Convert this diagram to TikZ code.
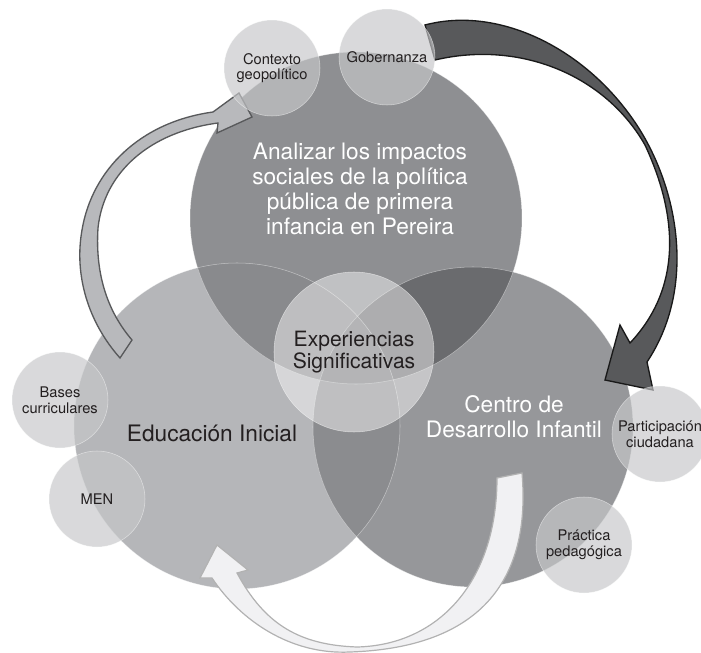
\documentclass[tikz,border=0pt]{standalone}
\usepackage{fontspec}
\setmainfont{TeX Gyre Heros}

\definecolor{grayT}{HTML}{8E8F92}
\definecolor{grayL}{HTML}{B5B6B9}
\definecolor{grayR}{HTML}{96979A}
\definecolor{grayTL}{HTML}{898A8D}
\definecolor{grayTR}{HTML}{6A6B6E}
\definecolor{grayLR}{HTML}{8B8C8F}
\definecolor{grayTLR}{HTML}{77787B}
\definecolor{graysmall}{HTML}{C6C7C9}
\definecolor{textdark}{HTML}{231F20}
\definecolor{arrowlight}{HTML}{B8B9BC}
\definecolor{arrowdark}{HTML}{58595B}
\definecolor{arrowwhite}{HTML}{F1F1F3}

\begin{document}
\begin{tikzpicture}[
x=0.75pt, y=-0.75pt,
bigcircle/.style={draw=white, draw opacity=0.45, line width=0.4pt},
smallnode/.style={circle, fill=graysmall, fill opacity=0.67, text opacity=1, draw=white, draw opacity=0.5, line width=0.4pt, minimum size=72pt, inner sep=0pt, align=center, text=textdark, font=\fontsize{11}{11.8}\selectfont},
centernode/.style={circle, fill=white, fill opacity=0.45, text opacity=1, draw=white, draw opacity=0.5, line width=0.4pt, minimum size=120pt, inner sep=0pt, align=center, text=textdark, font=\fontsize{15.8}{16.6}\selectfont},
bigtext/.style={align=center, inner sep=0pt, font=\fontsize{17}{18.6}\selectfont},
arrowband/.style={line width=1pt, line join=miter}
]

\useasboundingbox (0,0) rectangle (701,653);

\coordinate (c_top) at (356,218);
\coordinate (c_left) at (237,426);
\coordinate (c_right) at (473,427);

% big circles
\fill[grayL] (c_left) circle (163);
\fill[grayR] (c_right) circle (160);
\fill[grayT] (c_top) circle (166);

% overlaps
\begin{scope}
\clip (c_left) circle (163);
\fill[grayTL] (c_top) circle (166);
\fill[grayLR] (c_right) circle (160);
\end{scope}
\begin{scope}
\clip (c_right) circle (160);
\fill[grayTR] (c_top) circle (166);
\clip (c_left) circle (163);
\fill[grayTLR] (c_top) circle (166);
\end{scope}

\draw[bigcircle] (c_left) circle (163);
\draw[bigcircle] (c_right) circle (160);
\draw[bigcircle] (c_top) circle (166);

\node[centernode] (exp) at (354,352) {Experiencias\\Significativas};

\node[bigtext, text=white] (txt_top) at (360,189) {Analizar los impactos\\sociales de la política\\pública de primera\\infancia en Pereira};
\node[bigtext, text=textdark] (txt_left) at (212,433) {Educación Inicial};
\node[bigtext, text=white] (txt_right) at (514,417) {Centro de\\Desarrollo Infantil};

% arrows
\filldraw[arrowband, fill=arrowlight, draw=arrowdark]
  (120,358) .. controls (88,322) and (74,275) .. (82,230)
  .. controls (92,170) and (140,122) .. (213,112)
  -- (239,93) -- (252,117) -- (217,133) -- (218,123)
  .. controls (150,132) and (104,172) .. (98,228)
  .. controls (95,275) and (108,312) .. (132,340) -- cycle;

\filldraw[arrowband, fill=arrowdark, draw=black!90]
  (425,25) .. controls (500,5) and (590,50) .. (640,130)
  .. controls (680,195) and (695,290) .. (647,362)
  -- (653,390) -- (605,380) -- (620,325) -- (630,343)
  .. controls (680,290) and (680,220) .. (645,145)
  .. controls (605,75) and (520,40) .. (435,60) -- cycle;

\filldraw[arrowband, line width=0.9pt, fill=arrowwhite, draw=black!30]
  (522,473) .. controls (532,590) and (470,648) .. (350,652)
  .. controls (290,655) and (240,620) .. (212,578)
  -- (200,578) -- (217,545) -- (248,570) -- (237,573)
  .. controls (265,625) and (300,645) .. (357,647)
  .. controls (440,645) and (497,580) .. (497,478) -- cycle;

% small circles
\node[smallnode] (contexto) at (272,68) {Contexto\\geopolítico};
\node[smallnode] (gobernanza) at (387,57) {Gobernanza};
\node[smallnode] (bases) at (60,400) {Bases\\curriculares};
\node[smallnode] (men) at (97,499) {MEN};
\node[smallnode] (participacion) at (660,434) {Participación\\ciudadana};
\node[smallnode] (practica) at (584,545) {Práctica\\pedagógica};

\end{tikzpicture}
\end{document}
